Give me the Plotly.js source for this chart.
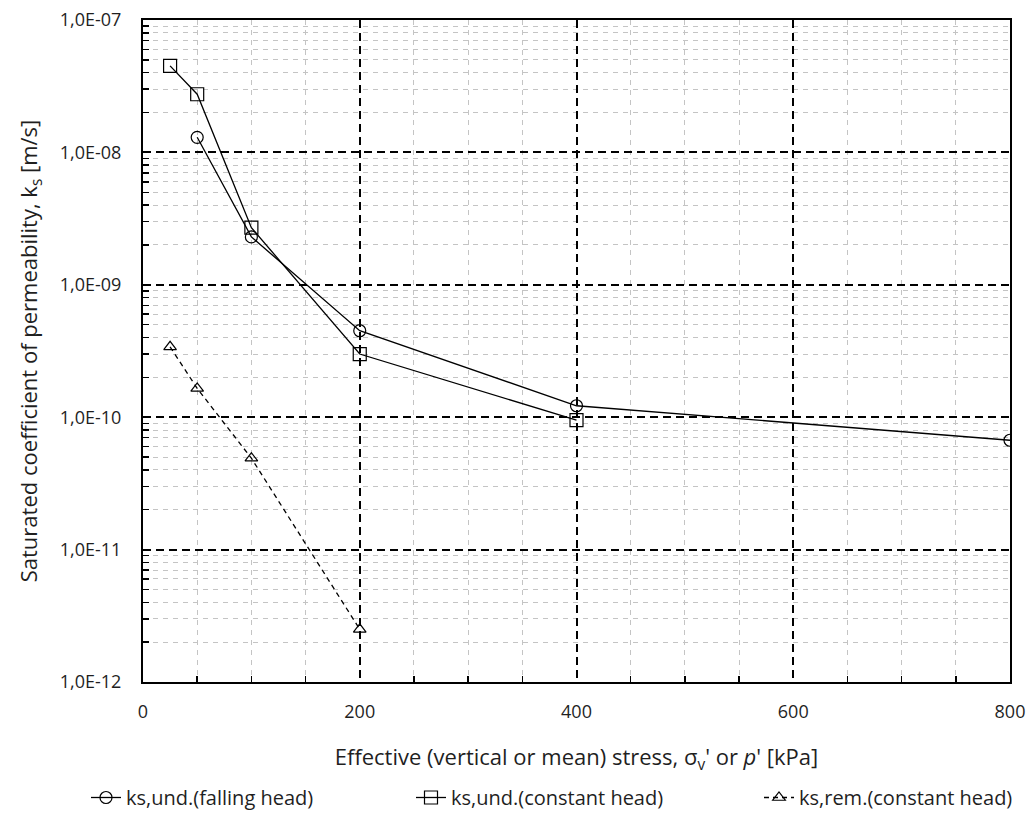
<!DOCTYPE html>
<html>
<head>
<meta charset="utf-8">
<script src="https://cdn.plot.ly/plotly-3.0.1.min.js"></script>
<style>html,body{margin:0;padding:0;background:#fff;}#chart{width:1029px;height:829px;}</style>
</head>
<body>
<div id="chart"></div>
<script>
// Data
const stressFalling = [50, 100, 200, 400, 800];
const ksFalling = [1.3e-8, 2.3e-9, 4.5e-10, 1.22e-10, 6.7e-11];

const stressConstant = [25, 50, 100, 200, 400];
const ksConstant = [4.5e-8, 2.75e-8, 2.7e-9, 3.0e-10, 9.5e-11];

const stressRemoulded = [25, 50, 100, 200];
const ksRemoulded = [3.4e-10, 1.65e-10, 4.9e-11, 2.5e-12];

const seriesNames = ["ks,und.(falling head)", "ks,und.(constant head)", "ks,rem.(constant head)"];

const yTickVals = [1e-12, 1e-11, 1e-10, 1e-9, 1e-8, 1e-7];
const yTickText = ["1,0E-12", "1,0E-11", "1,0E-10", "1,0E-09", "1,0E-08", "1,0E-07"];
const xTickVals = [0, 200, 400, 600, 800];

// minor grid positions (2..9 in each decade, every 50 kPa)
const yMinor = [];
for (let e = -12; e < -7; e++) for (let m = 2; m <= 9; m++) yMinor.push(m * Math.pow(10, e));
const xMinor = [];
for (let v = 50; v < 800; v += 50) if (v % 200 !== 0) xMinor.push(v);

const fontFam = "'Open Sans', Lato, sans-serif";
const txtColor = "#1f1f1f";

const traces = [
  {x: stressFalling, y: ksFalling, name: seriesNames[0], type: "scatter", mode: "lines+markers", legend: "legend",
   line: {color: "#000", width: 1.3},
   marker: {symbol: "circle-open", size: 12, color: "#000", line: {width: 1.2, color: "#000"}}},
  {x: stressConstant, y: ksConstant, name: seriesNames[1], type: "scatter", mode: "lines+markers", legend: "legend2",
   line: {color: "#000", width: 1.3},
   marker: {symbol: "square-open", size: 13, color: "#000", line: {width: 1.2, color: "#000"}}},
  {x: stressRemoulded, y: ksRemoulded, name: seriesNames[2], type: "scatter", mode: "lines+markers", legend: "legend3",
   line: {color: "#000", width: 1.3, dash: "5px,4px"},
   marker: {symbol: "triangle-up-open", size: 11, color: "#000", line: {width: 1.2, color: "#000"}}}
];

function legendAt(px) {
  return {orientation: "h", xref: "container", x: px / 1029, xanchor: "left",
          yref: "container", y: 0.038, yanchor: "middle",
          font: {size: 20, color: txtColor}, itemwidth: 30, bgcolor: "rgba(0,0,0,0)"};
}

const layout = {
  width: 1029, height: 829,
  margin: {l: 143, r: 19, t: 20, b: 147},
  paper_bgcolor: "#fff", plot_bgcolor: "#fff",
  font: {family: fontFam, size: 18, color: txtColor},
  showlegend: true,
  legend: legendAt(86),
  legend2: legendAt(411),
  legend3: legendAt(759),
  xaxis: {
    range: [0, 800], tickvals: xTickVals, ticks: "",
    showline: true, linecolor: "#000", linewidth: 2, mirror: true,
    showgrid: true, gridcolor: "#000", gridwidth: 2, griddash: "8px,5px",
    zeroline: false, tickfont: {size: 18}, ticklabelstandoff: 12,
    minor: {tickvals: xMinor, ticks: "inside", ticklen: 6, tickcolor: "#000", tickwidth: 1.5,
            showgrid: true, gridcolor: "#c4c4c4", gridwidth: 1, griddash: "5px,5px"},
    title: {text: "Effective (vertical or mean) stress, σ<sub>v</sub>' or <i>p</i>' [kPa]", font: {size: 22}, standoff: 28}
  },
  yaxis: {
    type: "log", range: [-12, -7], tickvals: yTickVals, ticktext: yTickText, ticks: "",
    showline: true, linecolor: "#000", linewidth: 2, mirror: true,
    showgrid: true, gridcolor: "#000", gridwidth: 2, griddash: "8px,5px",
    zeroline: false, tickfont: {size: 18}, ticklabelstandoff: 16,
    minor: {tickvals: yMinor, ticks: "inside", ticklen: 6, tickcolor: "#000", tickwidth: 1.5,
            showgrid: true, gridcolor: "#c4c4c4", gridwidth: 1, griddash: "5px,5px"},
    title: {text: "Saturated coefficient of permeability, k<sub>s</sub> [m/s]", font: {size: 22}, standoff: 16}
  }
};

Plotly.newPlot("chart", traces, layout, {displayModeBar: false, staticPlot: true});
</script>
</body>
</html>
